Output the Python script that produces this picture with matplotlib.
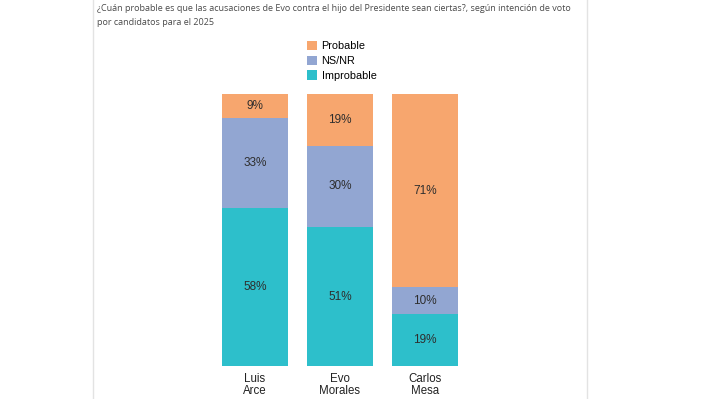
import matplotlib
matplotlib.use('Agg')
import matplotlib.pyplot as plt
from matplotlib.patches import Rectangle, Patch

candidates = ['Luis\nArce', 'Evo\nMorales', 'Carlos\nMesa']
improbable = [58, 51, 19]
ns_nr = [33, 30, 10]
probable = [9, 19, 71]
series_names = ['Probable', 'NS/NR', 'Improbable']
title_text = ('¿Cuán probable es que las acusaciones de Evo contra el hijo del Presidente sean ciertas?, según intención de voto\n'
              'por candidatos para el 2025')

c_prob = '#F7A66E'
c_ns = '#92A6D2'
c_imp = '#2DBFCB'
sans = 'Liberation Sans'

W, H = 720, 399
fig = plt.figure(figsize=(W / 100, H / 100), dpi=100)
fig.patch.set_facecolor('white')

# card frame, behind everything
fig.patches.append(Rectangle((93 / W, -0.02), (587 - 93) / W, 1.04, transform=fig.transFigure,
                             facecolor='white', edgecolor='#e3e3e3', lw=1.0, zorder=-10))

fig.text(97 / W, 1 - 4 / H, title_text, ha='left', va='top', fontsize=6.5,
         color='#4a4a4a', family='Open Sans', linespacing=1.75)

ax = fig.add_axes([204 / W, (H - 366) / H, 272 / W, 272 / H])
ax.set_xlim(-0.6, 2.6)
ax.set_ylim(0, 100)
x = range(len(candidates))
w = 66 / 85

ax.bar(x, improbable, w, color=c_imp)
ax.bar(x, ns_nr, w, bottom=improbable, color=c_ns)
bot2 = [a + b for a, b in zip(improbable, ns_nr)]
ax.bar(x, probable, w, bottom=bot2, color=c_prob)

for i in x:
    for val, b in [(improbable[i], 0), (ns_nr[i], improbable[i]), (probable[i], bot2[i])]:
        ax.text(i, b + val / 2, f'{val}%', ha='center', va='center', fontsize=8.5,
                color='#2e2e2e', family=sans)

ax.set_xticks(list(x))
ax.set_xticklabels(candidates, fontsize=8.3, family=sans, color='#222222', linespacing=1.0)
ax.tick_params(axis='x', length=0, pad=5)
ax.set_yticks([])
for s in ax.spines.values():
    s.set_visible(False)
ax.patch.set_alpha(0)

handles = [Patch(facecolor=c) for c in [c_prob, c_ns, c_imp]]
fig.legend(handles, series_names, loc='upper left', bbox_to_anchor=(307 / W, 1 - 41 / H),
           frameon=False, prop={'family': sans, 'size': 7.8},
           handlelength=0.95, handleheight=0.95, handletextpad=0.4, labelspacing=0.4,
           borderpad=0, borderaxespad=0)

fig.savefig('out.png', dpi=100)
